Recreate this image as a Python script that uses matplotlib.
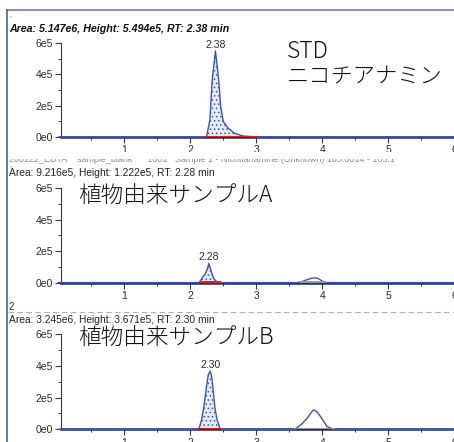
import matplotlib
matplotlib.use("Agg")
import matplotlib.pyplot as plt
from matplotlib.lines import Line2D
from matplotlib.patches import Rectangle

# ---- data -------------------------------------------------------------
# STD (nicotianamine standard)
std_t = [0.0, 2.22, 2.245, 2.295, 2.33, 2.38, 2.43, 2.46, 2.50, 2.57, 2.67, 2.80, 2.95, 3.05, 6.1]
std_i = [0, 0, 0.02e5, 1.08e5, 3.6e5, 5.494e5, 3.6e5, 1.9e5, 0.98e5, 0.57e5, 0.24e5, 0.06e5, 0.02e5, 0, 0]

# plant-derived sample A
a_t = [0.0, 2.12, 2.14, 2.19, 2.22, 2.26, 2.28, 2.31, 2.35, 2.40, 2.45,
       3.62, 3.70, 3.78, 3.84, 3.88, 3.93, 3.98, 4.04, 6.1]
a_i = [0, 0, 0.03e5, 0.38e5, 0.5e5, 0.9e5, 1.222e5, 0.8e5, 0.28e5, 0.05e5, 0,
       0, 0.08e5, 0.2e5, 0.28e5, 0.3e5, 0.27e5, 0.15e5, 0, 0]

# plant-derived sample B
b_t = [0.0, 2.11, 2.13, 2.17, 2.205, 2.245, 2.27, 2.30, 2.32, 2.335, 2.37, 2.405, 2.45, 2.47,
       3.58, 3.68, 3.77, 3.82, 3.86, 3.88, 3.92, 3.99, 4.07, 4.17, 6.1]
b_i = [0, 0, 0.05e5, 0.59e5, 1.43e5, 2.7e5, 3.43e5, 3.671e5, 3.4e5, 2.9e5, 1.43e5, 0.59e5, 0.05e5, 0,
       0, 0.3e5, 0.7e5, 1.0e5, 1.2e5, 1.22e5, 1.1e5, 0.7e5, 0.17e5, 0, 0]

traces = [(std_t, std_i), (a_t, a_i), (b_t, b_i)]
peak_rt = [2.38, 2.28, 2.30]
peak_height = [5.494e5, 1.222e5, 3.671e5]
peak_area = ["5.147e6", "9.216e5", "3.245e6"]
integration = [(2.24, 3.06), (2.13, 2.46), (2.11, 2.47)]
second_peak = [None, (3.66, 4.04), (3.58, 4.17)]
sample_labels = ["STD\nニコチアナミン", "植物由来サンプルA", "植物由来サンプルB"]

y_ticks = [0, 2e5, 4e5, 6e5]
y_ticklabels = ["0e0", "2e5", "4e5", "6e5"]
x_ticks = [1, 2, 3, 4, 5, 6]

# ---- layout (pixel geometry of a 454x442 canvas) -----------------------
W, H = 454, 442
fig = plt.figure(figsize=(W / 100, H / 100), dpi=100)
fig.patch.set_facecolor("white")

def fx(px):
    return px / W

def fy(py):
    return 1 - py / H

x_lo, x_hi = 0.04, 6.02
px_per_min = 66.0
ax_left = 61
ax_width = (x_hi - x_lo) * px_per_min
panels = [(43, 137), (188.3, 282.6), (334.3, 429.3)]   # (top, bottom) in px

trace_col = "#3a55b8"
axis_col = "#1d2c6c"
text_col = "#2a2a2a"
jp_font = ["Noto Sans CJK JP", "DejaVu Sans"]
lat_font = ["Liberation Sans", "DejaVu Sans"]

plt.rcParams["hatch.linewidth"] = 0.6


def header(k):
    h = f"{peak_height[k]:.3e}".replace("e+05", "e5")
    return f"Area: {peak_area[k]}, Height: {h}, RT: {peak_rt[k]:.2f} min"


for k, ((t, inten), (top, bot)) in enumerate(zip(traces, panels)):
    ax = fig.add_axes([fx(ax_left), fy(bot), fx(ax_width), (bot - top) / H])
    ax.set_xlim(x_lo, x_hi)
    ax.set_ylim(0, 6e5)
    ax.patch.set_alpha(0)
    for s in ("top", "right"):
        ax.spines[s].set_visible(False)
    ax.spines["left"].set_color("#3a3a3a")
    ax.spines["left"].set_linewidth(0.8)
    ax.spines["bottom"].set_color(axis_col)
    ax.spines["bottom"].set_linewidth(1.8)

    ax.set_yticks(y_ticks)
    ax.set_yticklabels(y_ticklabels)
    ax.set_yticks([1e5, 3e5, 5e5], minor=True)
    ax.set_xticks(x_ticks)
    ax.set_xticklabels([str(v) for v in x_ticks])
    ax.set_xticks([0.5, 1.5, 2.5, 3.5, 4.5, 5.5], minor=True)
    ax.tick_params(axis="both", which="major", length=4, width=0.8, color="#3a3a3a",
                   labelsize=7.5, labelcolor=text_col, pad=2)
    ax.tick_params(axis="both", which="minor", length=2, width=0.7, color="#3a3a3a")
    for lab in ax.get_xticklabels() + ax.get_yticklabels():
        lab.set_family(lat_font)

    # integrated peak: dotted fill and red baseline
    lo, hi = integration[k]
    sel_t = [tt for tt in t if lo <= tt <= hi]
    sel_i = [ii for tt, ii in zip(t, inten) if lo <= tt <= hi]
    sel_t = [lo] + sel_t + [hi]
    sel_i = [0] + sel_i + [0]
    ax.fill_between(sel_t, sel_i, 0, facecolor="#e6ebf8", edgecolor=trace_col,
                    hatch="....", linewidth=0, zorder=2)
    ax.plot([lo, hi], [0.025e5, 0.025e5], color="#d9261c", lw=1.5, zorder=4,
            solid_capstyle="butt")
    if second_peak[k] is not None:
        s_lo, s_hi = second_peak[k]
        ax.plot([s_lo, s_hi], [0.02e5, 0.02e5], color="#9a9a9a", lw=1.4, zorder=4)

    ax.plot(t, inten, color=trace_col, lw=1.0, zorder=3, clip_on=False)

    ax.annotate(f"{peak_rt[k]:.2f}", xy=(peak_rt[k], peak_height[k]),
                xytext=(0, 1), textcoords="offset points", ha="center", va="bottom",
                fontsize=7.5, color=text_col, family=lat_font)

# ---- header lines ------------------------------------------------------
fig.text(fx(9), fy(29), header(0),
         fontsize=7.7, fontweight="bold", fontstyle="italic", color="#111111",
         family=lat_font, va="center", ha="left")
fig.text(fx(9), fy(173), header(1),
         fontsize=7.4, color="#222222", family=lat_font, va="center", ha="left")
fig.text(fx(9), fy(320), header(2),
         fontsize=7.4, color="#222222", family=lat_font, va="center", ha="left")

# partly hidden sample description line above panel 2
fig.text(fx(9), fy(159.5), "200122_EDTA    sample_blank      1001   Sample 1 - Nicotianamine (Unknown) 105.0014 - 105.1",
         fontsize=6.5, color="#8a8a8a", family=lat_font, va="center", ha="left")
fig.add_artist(Rectangle((fx(8), fy(158.5)), fx(446), 6.5 / H, transform=fig.transFigure,
                         facecolor="white", edgecolor="none", zorder=5))
fig.text(fx(9), fy(166), ",", fontsize=5, color="#444444", family=lat_font, va="center")
fig.text(fx(9), fy(16), ",", fontsize=5, color="#444444", family=lat_font, va="center")

# panel 3 top: index and dashed separator
fig.text(fx(9), fy(307), "2", fontsize=7.0, color="#222222", family=lat_font, va="center")
fig.add_artist(Line2D([fx(8), fx(454)], [fy(312), fy(312)], transform=fig.transFigure,
                      color="#b0b0b0", lw=0.8, ls=(0, (5, 3))))

# ---- sample labels -----------------------------------------------------
fig.text(fx(287), fy(52), "STD", fontsize=16.5, color="#111111", family=jp_font,
         fontweight="light", va="center", ha="left")
fig.text(fx(287), fy(77), "ニコチアナミン", fontsize=16, color="#111111", family=jp_font,
         fontweight="light", va="center", ha="left")
fig.text(fx(78), fy(196), sample_labels[1], fontsize=16.3, color="#111111", family=jp_font,
         fontweight="light", va="center", ha="left")
fig.text(fx(78), fy(338), sample_labels[2], fontsize=16.3, color="#111111", family=jp_font,
         fontweight="light", va="center", ha="left")

# ---- window frame ------------------------------------------------------
fig.add_artist(Line2D([fx(7), fx(454)], [fy(10), fy(10)], transform=fig.transFigure,
                      color="#6a78c4", lw=1.2))
fig.add_artist(Line2D([fx(7), fx(7)], [fy(10), fy(442)], transform=fig.transFigure,
                      color="#4a5aa8", lw=1.2))

fig.savefig("out.png", dpi=100, facecolor="white")
